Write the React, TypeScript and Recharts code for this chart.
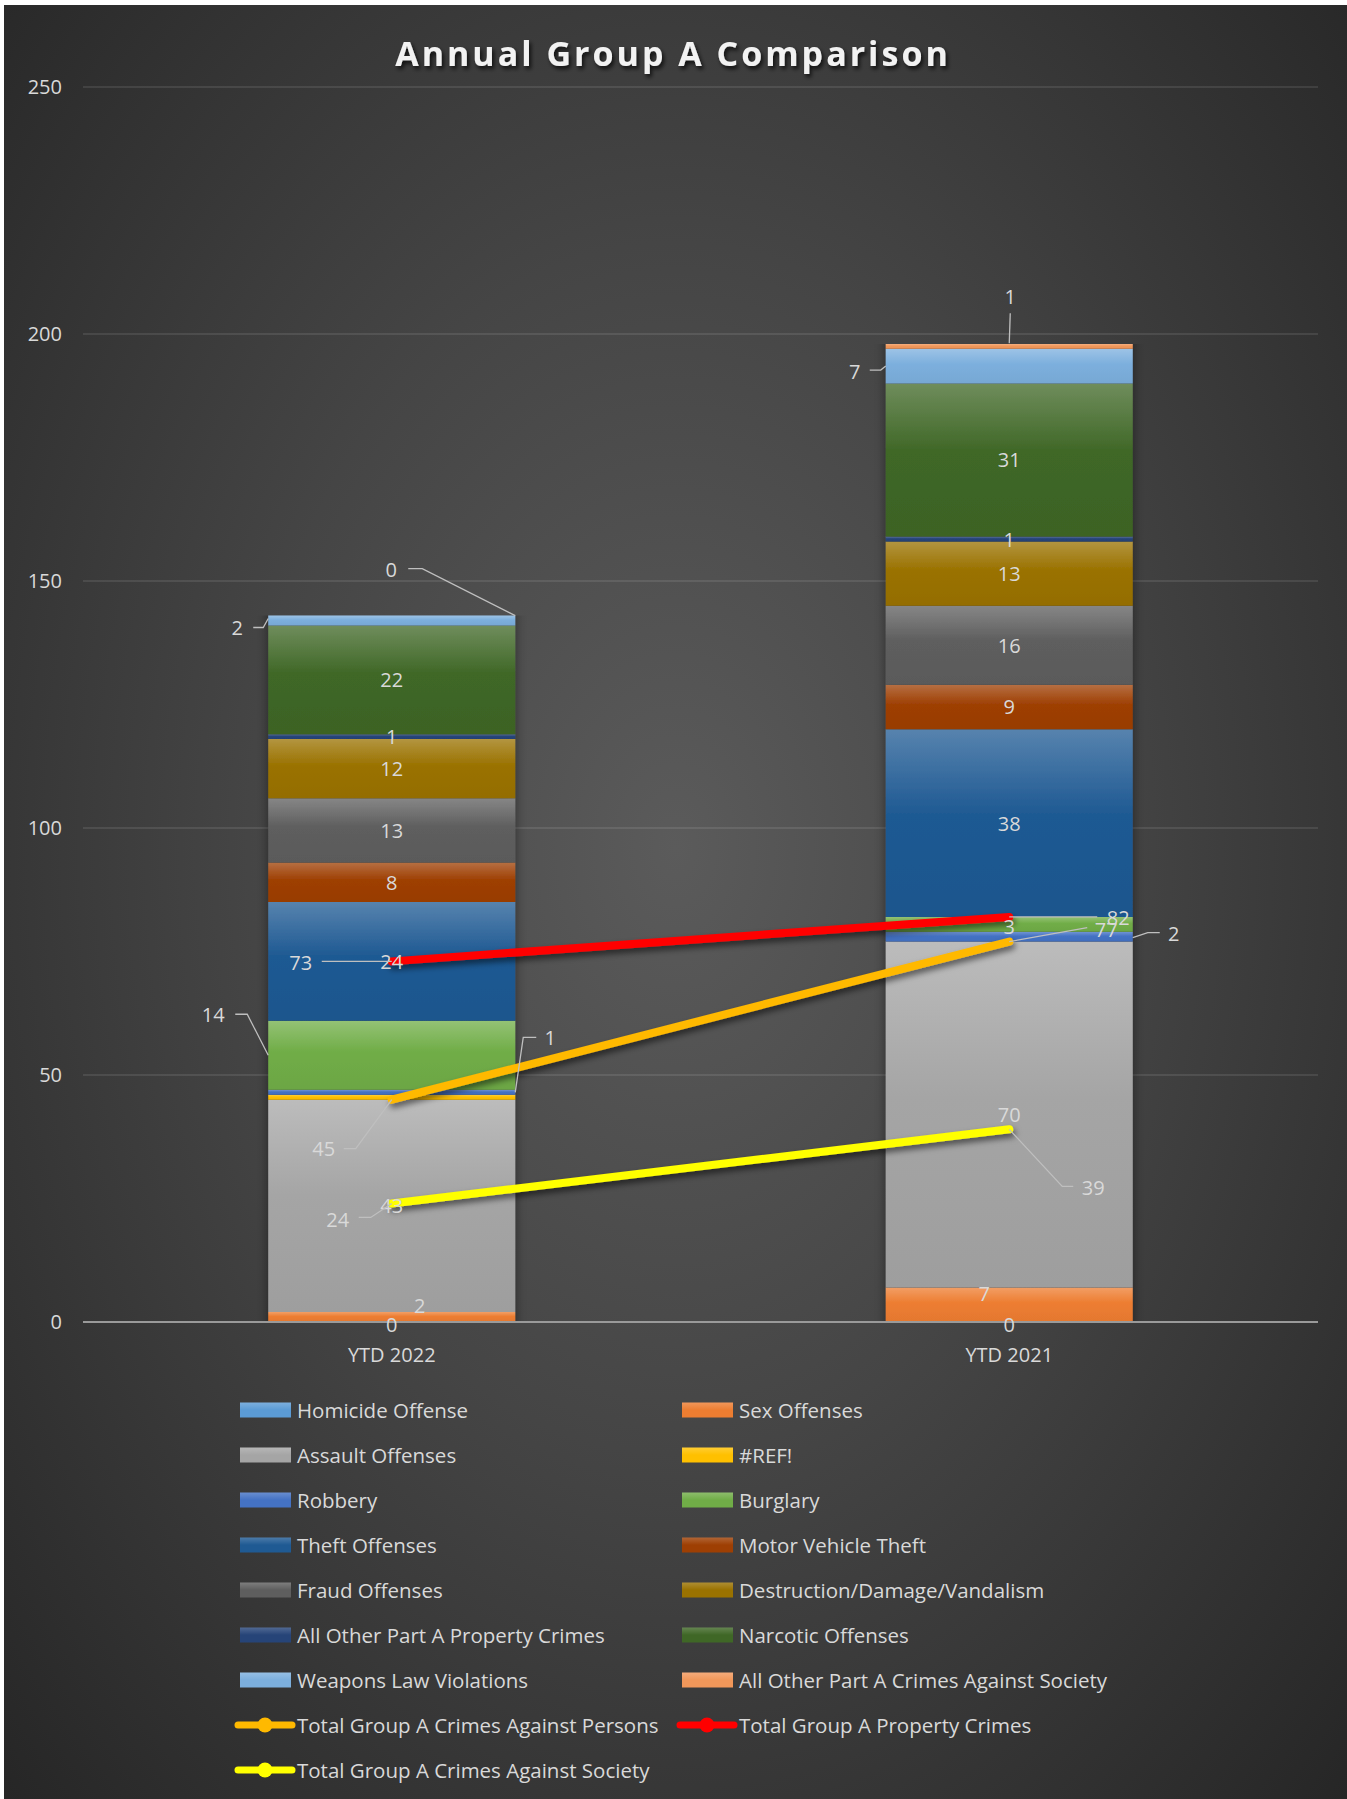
import React from 'react';
import { ComposedChart, Bar, Line, XAxis, YAxis, CartesianGrid, LabelList } from 'recharts';

// ---------- data ----------
const categories = ['YTD 2022', 'YTD 2021'];
const homicide = [0, 0];
const sexOffenses = [2, 7];
const assault = [43, 70];
const refError = [1, null];
const robbery = [1, 2];
const burglary = [14, 3];
const theft = [24, 38];
const motorVehicleTheft = [8, 9];
const fraud = [13, 16];
const destruction = [12, 13];
const otherProperty = [1, 1];
const narcotic = [22, 31];
const weapons = [2, 7];
const otherSociety = [0, 1];
const totalPersons = [45, 77];
const totalProperty = [73, 82];
const totalSociety = [24, 39];
const yTicks = [0, 50, 100, 150, 200, 250];

const barSeries = [
  { key: 'homicide', name: 'Homicide Offense', values: homicide, color: '#5B9BD5' },
  { key: 'sex', name: 'Sex Offenses', values: sexOffenses, color: '#ED7D31' },
  { key: 'assault', name: 'Assault Offenses', values: assault, color: '#A5A5A5' },
  { key: 'refErr', name: '#REF!', values: refError, color: '#FFC000' },
  { key: 'robbery', name: 'Robbery', values: robbery, color: '#4472C4' },
  { key: 'burglary', name: 'Burglary', values: burglary, color: '#70AD47' },
  { key: 'theft', name: 'Theft Offenses', values: theft, color: '#1F5A93' },
  { key: 'mvt', name: 'Motor Vehicle Theft', values: motorVehicleTheft, color: '#9E3F03' },
  { key: 'fraud', name: 'Fraud Offenses', values: fraud, color: '#5E5E5E' },
  { key: 'destruction', name: 'Destruction/Damage/Vandalism', values: destruction, color: '#9A7200' },
  { key: 'otherProperty', name: 'All Other Part A Property Crimes', values: otherProperty, color: '#264478' },
  { key: 'narcotic', name: 'Narcotic Offenses', values: narcotic, color: '#3F6726' },
  { key: 'weapons', name: 'Weapons Law Violations', values: weapons, color: '#7CAFDD' },
  { key: 'otherSociety', name: 'All Other Part A Crimes Against Society', values: otherSociety, color: '#F1975A' },
];

const lineSeries = [
  { key: 'persons', name: 'Total Group A Crimes Against Persons', values: totalPersons, color: '#FFB900' },
  { key: 'property', name: 'Total Group A Property Crimes', values: totalProperty, color: '#FF0000' },
  { key: 'society', name: 'Total Group A Crimes Against Society', values: totalSociety, color: '#FFFF00' },
];

const data = categories.map((c, i) => {
  const row: any = { category: c };
  barSeries.forEach((s) => (row[s.key] = s.values[i]));
  lineSeries.forEach((s) => (row[s.key] = s.values[i]));
  return row;
});

// ---------- label placement (relative offsets, styling only) ----------
type Spec = { a: 'c' | 'l' | 'r' | 'tr'; t: [number, number]; p?: [number, number][] } | null;
const barLabelSpecs: Record<string, Spec[]> = {
  homicide: [{ a: 'c', t: [0, 3] }, { a: 'c', t: [0, 3] }],
  sex: [{ a: 'c', t: [28, -12] }, { a: 'c', t: [-25, -11] }],
  refErr: [null, null],
  robbery: [
    { a: 'r', t: [35, -55], p: [[0, 0], [8, -55], [21, -55]] },
    { a: 'r', t: [41, -3], p: [[0, 1], [15, -4], [27, -4]] },
  ],
  burglary: [{ a: 'l', t: [-55, -41], p: [[0, 0], [-21, -41], [-33, -41]] }, { a: 'c', t: [0, 2] }],
  weapons: [
    { a: 'l', t: [-31, 7], p: [[0, -2], [-5, 7], [-15, 7]] },
    { a: 'l', t: [-31, 5], p: [[0, 0], [-5, 4], [-16, 4]] },
  ],
  otherSociety: [
    { a: 'tr', t: [-124, -46], p: [[0, 0], [-93, -47], [-107, -47]] },
    { a: 'c', t: [1, -50], p: [[0, -3], [1, -33]] },
  ],
};
const lineLabelSpecs: Record<string, Spec[]> = {
  persons: [
    { a: 'c', t: [-68, 49], p: [[0, 0], [-36, 49], [-48, 49]] },
    { a: 'c', t: [97, -12], p: [[0, 0], [78, -14]] },
  ],
  property: [
    { a: 'c', t: [-91, 1], p: [[0, 0], [-70, 0]] },
    { a: 'c', t: [109, 1], p: [[0, 0], [88, 0]] },
  ],
  society: [
    { a: 'c', t: [-54, 16], p: [[0, 0], [-21, 14], [-33, 14]] },
    { a: 'c', t: [84, 58], p: [[0, 0], [53, 57], [64, 57]] },
  ],
};

const LABEL_COLOR = '#D9D9D9';
const LEADER_COLOR = '#BFBFBF';
const FONT = "'Open Sans', 'Noto Sans', sans-serif";
const W = 1347;
const H = 1799;

// which category a label belongs to (left band or right band)
const catOf = (cx: number) => (cx < W / 2 ? 0 : 1);

const drawLabel = (ax: number, ay: number, spec: { t: [number, number]; p?: [number, number][] }, value: any) => (
  <g>
    {spec.p && (
      <polyline
        points={spec.p.map(([dx, dy]) => `${ax + dx},${ay + dy}`).join(' ')}
        fill="none"
        stroke={LEADER_COLOR}
        strokeWidth={1.3}
      />
    )}
    <text
      x={ax + spec.t[0]}
      y={ay + spec.t[1]}
      textAnchor="middle"
      dominantBaseline="central"
      fill={LABEL_COLOR}
      fontSize={20}
      fontFamily={FONT}
    >
      {value}
    </text>
  </g>
);

const makeBarLabel = (key: string) => (props: any) => {
  const { x, y, width, height, value } = props;
  if (value === null || value === undefined) return null;
  const X = Number(x), Y = Number(y), Wd = Number(width), Ht = Number(height);
  const ci = catOf(X + Wd / 2);
  const specs = barLabelSpecs[key];
  let spec: Spec = specs ? specs[ci] : { a: 'c', t: [0, 0] };
  if (spec === null) return null;
  if (!spec) spec = { a: 'c', t: [0, 0] };
  const top = Math.min(Y, Y + Ht);
  const h = Math.abs(Ht) < 0.5 ? 0 : Math.abs(Ht);
  let ax = X + Wd / 2, ay = top + h / 2;
  if (spec.a === 'l') ax = X;
  if (spec.a === 'r') ax = X + Wd;
  if (spec.a === 'tr') { ax = X + Wd; ay = top; }
  return drawLabel(ax, ay, spec, value);
};

const makeLineLabel = (key: string) => (props: any) => {
  const { x, y, value } = props;
  if (value === null || value === undefined) return null;
  const ci = catOf(Number(x));
  const spec = lineLabelSpecs[key][ci] || { a: 'c', t: [0, 0] };
  return drawLabel(Number(x), Number(y), spec, value);
};

// ---------- colour helpers ----------
const hexToRgb = (h: string) => [1, 3, 5].map((i) => parseInt(h.slice(i, i + 2), 16));
const mix = (h: string, target: number, t: number) => {
  const c = hexToRgb(h).map((v) => Math.round(v + (target - v) * t));
  return `rgb(${c[0]},${c[1]},${c[2]})`;
};

export default function App() {
  const legendItems = [
    ...barSeries.map((s) => ({ id: s.key, name: s.name, color: s.color, kind: 'bar' })),
    ...lineSeries.map((s) => ({ id: s.key, name: s.name, color: s.color, kind: 'line' })),
  ];
  return (
    <div style={{ position: 'absolute', left: 0, top: 0, width: W, height: H, background: '#ffffff', overflow: 'hidden' }}>
      <style>{`.recharts-bar-rectangles { filter: url(#barShadow); }`}</style>
      <div
        style={{
          position: 'absolute',
          left: 4,
          top: 5,
          right: 0,
          bottom: 0,
          background: 'radial-gradient(ellipse farthest-corner at 50% 47%, #5b5b5b 0%, #454545 45%, #262626 100%)',
        }}
      />
      <div style={{ position: 'absolute', left: 0, top: 0 }}>
        <ComposedChart
          width={W}
          height={H}
          data={data}
          margin={{ top: 87, right: 29, bottom: 437, left: 0 }}
          barCategoryGap="30%"
        >
          <defs>
            {barSeries.map((s) => (
              <linearGradient key={s.key} id={`g-${s.key}`} x1="0" y1="0" x2="0" y2="1">
                <stop offset="0%" stopColor={mix(s.color, 255, 0.25)} />
                <stop offset="45%" stopColor={s.color} />
                <stop offset="100%" stopColor={mix(s.color, 0, 0.04)} />
              </linearGradient>
            ))}
            <filter id="lineShadow" filterUnits="userSpaceOnUse" x="0" y="0" width={W} height={H}>
              <feDropShadow dx="2" dy="4" stdDeviation="3" floodColor="#000" floodOpacity="0.55" />
            </filter>
            <filter id="barShadow" filterUnits="userSpaceOnUse" x="0" y="0" width={W} height={H}>
              <feGaussianBlur in="SourceAlpha" stdDeviation="6 0" result="b" />
              <feFlood floodColor="#000" floodOpacity="0.45" />
              <feComposite in2="b" operator="in" result="s" />
              <feMerge>
                <feMergeNode in="s" />
                <feMergeNode in="SourceGraphic" />
              </feMerge>
            </filter>
          </defs>
          <CartesianGrid vertical={false} stroke="#ffffff" strokeOpacity={0.13} strokeWidth={1.5} />
          <XAxis
            dataKey="category"
            height={40}
            tickLine={false}
            axisLine={{ stroke: '#9a9a9a', strokeWidth: 2 }}
            tickMargin={20}
            tick={{ fill: LABEL_COLOR, fontSize: 20, fontFamily: FONT }}
          />
          <YAxis
            width={83}
            domain={[0, 250]}
            ticks={yTicks}
            axisLine={false}
            tickLine={false}
            tickSize={6}
            tickMargin={15}
            tick={{ fill: LABEL_COLOR, fontSize: 20, fontFamily: FONT }}
          />
          {barSeries.map((s) => (
            <Bar
              key={s.key}
              dataKey={s.key}
              name={s.name}
              stackId="a"
              fill={`url(#g-${s.key})`}
              minPointSize={0.01}
              isAnimationActive={false}
            >
              <LabelList dataKey={s.key} content={makeBarLabel(s.key)} />
            </Bar>
          ))}
          {lineSeries.map((s) => (
            <Line
              key={s.key}
              type="linear"
              dataKey={s.key}
              name={s.name}
              stroke={s.color}
              strokeWidth={8}
              strokeLinecap="round"
              dot={false}
              activeDot={false}
              filter="url(#lineShadow)"
              isAnimationActive={false}
            >
              <LabelList dataKey={s.key} content={makeLineLabel(s.key)} />
            </Line>
          ))}
        </ComposedChart>
      </div>
      <svg width={W} height={H} style={{ position: 'absolute', left: 0, top: 0, pointerEvents: 'none' }}>
        <defs>
          <filter id="titleShadow" x="-10%" y="-50%" width="120%" height="200%">
            <feDropShadow dx="2" dy="3" stdDeviation="2" floodColor="#000" floodOpacity="0.75" />
          </filter>
          {barSeries.map((s) => (
            <linearGradient key={s.key} id={`lg-${s.key}`} x1="0" y1="0" x2="0" y2="1">
              <stop offset="0%" stopColor={mix(s.color, 255, 0.2)} />
              <stop offset="50%" stopColor={s.color} />
              <stop offset="100%" stopColor={s.color} />
            </linearGradient>
          ))}
        </defs>
        <text
          x={673}
          y={66}
          textAnchor="middle"
          fill="#F2F2F2"
          fontSize={34}
          fontWeight="bold"
          fontFamily={FONT}
          letterSpacing={3}
          filter="url(#titleShadow)"
        >
          Annual Group A Comparison
        </text>
        {legendItems.map((it, i) => {
          const col = i % 2;
          const row = Math.floor(i / 2);
          const x0 = col === 0 ? 240 : 682;
          const cy = 1410 + row * 45;
          return (
            <g key={it.id}>
              {it.kind === 'bar' ? (
                <rect x={x0} y={cy - 7.5} width={51} height={15} fill={`url(#lg-${it.id})`} />
              ) : (
                <g>
                  <line x1={x0 - 2} y1={cy} x2={x0 + 52} y2={cy} stroke={it.color} strokeWidth={7} strokeLinecap="round" />
                  <circle cx={x0 + 25} cy={cy} r={7.5} fill={it.color} />
                </g>
              )}
              <text
                x={x0 + 57}
                y={cy}
                dominantBaseline="central"
                fill={LABEL_COLOR}
                fontSize={20.5}
                fontFamily={FONT}
              >
                {it.name}
              </text>
            </g>
          );
        })}
      </svg>
    </div>
  );
}
